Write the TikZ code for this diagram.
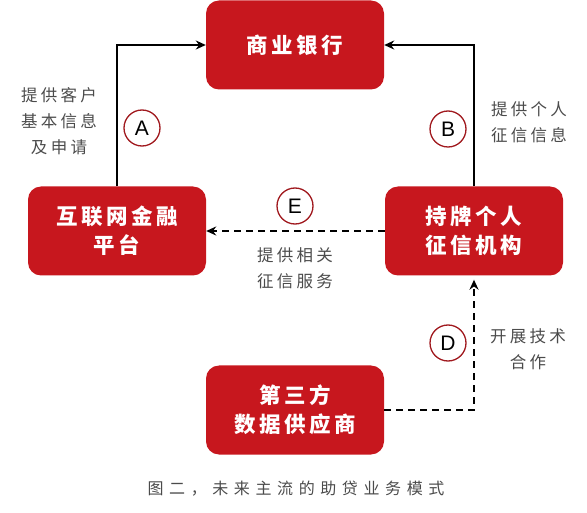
\documentclass[tikz,border=0pt]{standalone}
\usepackage{fontspec}
\setmainfont{Liberation Sans}
\newfontfamily\cjk{Noto Sans CJK SC}[LetterSpace=20]
\newfontfamily\cjkbox{Noto Sans CJK SC}[LetterSpace=16]
\newfontfamily\cjkcap{Noto Sans CJK SC}[LetterSpace=35]
\usetikzlibrary{arrows.meta}
\definecolor{boxred}{RGB}{199,23,30}
\definecolor{ringred}{RGB}{160,25,30}
\definecolor{labelgray}{RGB}{75,75,75}
\tikzset{
  box/.style={draw=none, fill=boxred, rounded corners=13pt, minimum width=178pt, minimum height=89pt,
    text=white, align=center, font=\cjkbox\bfseries\fontsize{21.5}{29}\selectfont, inner sep=0pt},
  ring/.style={circle, draw=ringred, line width=1.3pt, minimum size=36pt, inner sep=0pt,
    font=\fontsize{21}{21}\selectfont},
  lbl/.style={text=labelgray, align=center, font=\cjk\fontsize{16.5}{26}\selectfont, inner sep=0pt},
  solidarrow/.style={line width=1.9pt, -{Stealth[length=10pt,width=9pt]}},
  dasharrow/.style={line width=1.9pt, dash pattern=on 7pt off 5pt, -{Stealth[length=10pt,width=9pt]}}
}
\begin{document}
\begin{tikzpicture}[x=1pt,y=-1pt]
\useasboundingbox (0,0) rectangle (587,513);
\node[box] (bank) at (295,45) {商业银行};
\node[box] (net) at (117,231) {互联网金融\\平台};
\node[box] (credit) at (474,231) {持牌个人\\征信机构};
\node[box] (third) at (295,410) {第三方\\数据供应商};
\coordinate (c1) at (net.north |- bank.west);
\coordinate (c2) at (credit.north |- bank.east);
\coordinate (c3) at (credit.south |- third.east);
\draw[solidarrow] (net.north) -- (c1) -- (bank.west);
\draw[solidarrow] (credit.north) -- (c2) -- (bank.east);
\draw[dasharrow] (credit.west) -- (net.east);
\draw[dasharrow] (third.east) -- (c3) -- ([yshift=-4pt]credit.south);
\node[ring] (A) at (142,128) {A};
\node[ring] (B) at (448,129) {B};
\node[ring] (E) at (295,206) {E};
\node[ring] (D) at (448,343) {D};
\node[lbl] (la) at (59,121) {提供客户\\基本信息\\及申请};
\node[lbl] (lb) at (529,122) {提供个人\\征信信息};
\node[lbl] (le) at (295,268) {提供相关\\征信服务};
\node[lbl] (ld) at (528,349) {开展技术\\合作};
\node[text=labelgray, font=\cjkcap\fontsize{16}{20}\selectfont, inner sep=0pt] (cap) at (296,489) {图二，未来主流的助贷业务模式};
\end{tikzpicture}
\end{document}
